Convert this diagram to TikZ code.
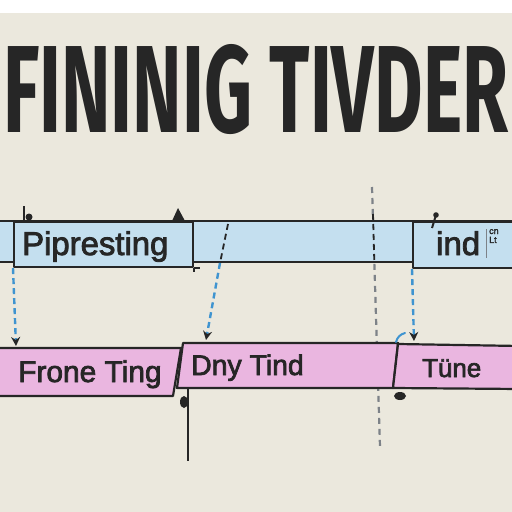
\documentclass[tikz,border=0pt]{standalone}
\usepackage{fontspec}
\setmainfont{Liberation Sans}
\newfontfamily\titlefont{Fira Sans}
\newfontfamily\labfont{Liberation Sans}[FakeBold=2.5]
\usetikzlibrary{arrows.meta}
\definecolor{paper}{HTML}{EBE8DD}
\definecolor{ink}{HTML}{262626}
\definecolor{barblue}{HTML}{C4DFEF}
\definecolor{barpink}{HTML}{EAB6E0}
\definecolor{lineblue}{HTML}{3F94D0}
\definecolor{linegrey}{HTML}{7D8288}
\begin{document}
\begin{tikzpicture}[x=1bp,y=-1bp,
  border/.style={draw=ink, line width=2.2bp, line join=round},
  bluebox/.style={border, fill=barblue, inner sep=0pt, anchor=north west},
  pinkbox/.style={border, fill=barpink},
  label/.style={inner sep=0pt, anchor=base west, text=ink},
  bluedash/.style={draw=lineblue, line width=2.4bp, dash pattern=on 6bp off 4bp, -{Stealth[ink, length=9bp, width=9bp]}},
  darkdash/.style={draw=ink, line width=1.8bp, dash pattern=on 6bp off 4bp},
  greydash/.style={draw=linegrey, line width=2.2bp, dash pattern=on 6bp off 5bp},
  blob/.style={fill=ink}]
\useasboundingbox (0,0) rectangle (512,512);
\clip (0,0) rectangle (512,512);
\fill[white] (0,0) rectangle (512,13);
\fill[paper] (0,13) rectangle (512,512);
% title
\node[inner sep=0pt, anchor=west, text=ink] (title) at (3,90)
  {\resizebox{505bp}{88bp}{\titlefont\bfseries FININIG TIVDER}};
% grey dashed guide (behind the bars)
\coordinate (g1) at (372,187);
\coordinate (g2) at (380,447);
\draw[greydash] (g1) -- (g2);
% blue bar
\fill[barblue] (0,221) rectangle (512,262);
\draw[border] (0,221) -- (512,221);
\draw[border] (0,262) -- (412,262);
\node[bluebox, minimum width=179bp, minimum height=45bp] (pip) at (13,221) {};
\draw[border] (pip.south east) -- ++(6,0);
\draw[border] (pip.south east) -- ++(0,4);
\node[bluebox, minimum width=110bp, minimum height=46bp] (indbox) at (412,221) {};
\node[label] (lblPip) at (22,255) {\labfont\fontsize{33}{33}\selectfont Pipresting};
\node[label] (lblInd) at (436,255) {\labfont\fontsize{33}{33}\selectfont ind};
\draw[linegrey, line width=0.8bp] (486,229) -- (486,258);
\node[inner sep=0pt, anchor=north west, text=ink, align=left, font=\labfont\fontsize{9}{9}\selectfont] (lblGarble) at (489,229) {cn\\Lt};
% dark dashes inside blue bar
\coordinate (g3) at (373,214);
\coordinate (g4) at (374.3,262);
\draw[darkdash] (g3) -- (g4);
\coordinate (d1) at (228,224);
\coordinate (d2) at (220,263);
\draw[darkdash] (d1) -- (d2);
% pink bar
\draw[pinkbox] (-3,348) -- (181,348) -- (173,396) -- (-3,396) -- cycle;
\draw[pinkbox] (183,343) -- (398,343) -- (393,388) -- (177,388) -- cycle;
\draw[pinkbox] (398,344) -- (520,346) -- (520,389) -- (393,388) -- cycle;
\coordinate (p1) at (16,346);
\coordinate (p2) at (206,340);
\coordinate (p4) at (414,341);
\coordinate (v1) at (188,388);
\coordinate (v2) at (188,461);
\draw[ink, line width=1.5bp] (v1) -- (v2);
\node[label] (lblFrone) at (18,382) {\labfont\fontsize{30}{30}\selectfont Frone Ting};
\node[label] (lblDny) at (191,375) {\labfont\fontsize{28.5}{28.5}\selectfont Dny Tind};
\node[label] (lblTune) at (422,377) {\labfont\fontsize{26}{26}\selectfont Tüne};
% connectors
\draw[bluedash] (pip.south west) -- (p1);
\draw[bluedash] (d2) -- (p2);
\draw[bluedash] (indbox.south west) -- (p4);
\draw[lineblue, line width=2bp, line cap=round] (396,342) to[bend left=30] (405,333);
% small marks
\draw[ink, line width=2bp] (24,206) -- (24,221);
\fill[blob] (29,217) circle (3.5bp);
\fill[blob] (172,221) -- (178,208) -- (185,221) -- cycle;
\fill[blob] (436,215) circle (2.8bp);
\draw[ink, line width=2bp] (436,215) -- (432,228);
\fill[blob] (184,402) ellipse (4bp and 6bp);
\fill[blob] (400,396) ellipse (6bp and 4bp);
\end{tikzpicture}
\end{document}
